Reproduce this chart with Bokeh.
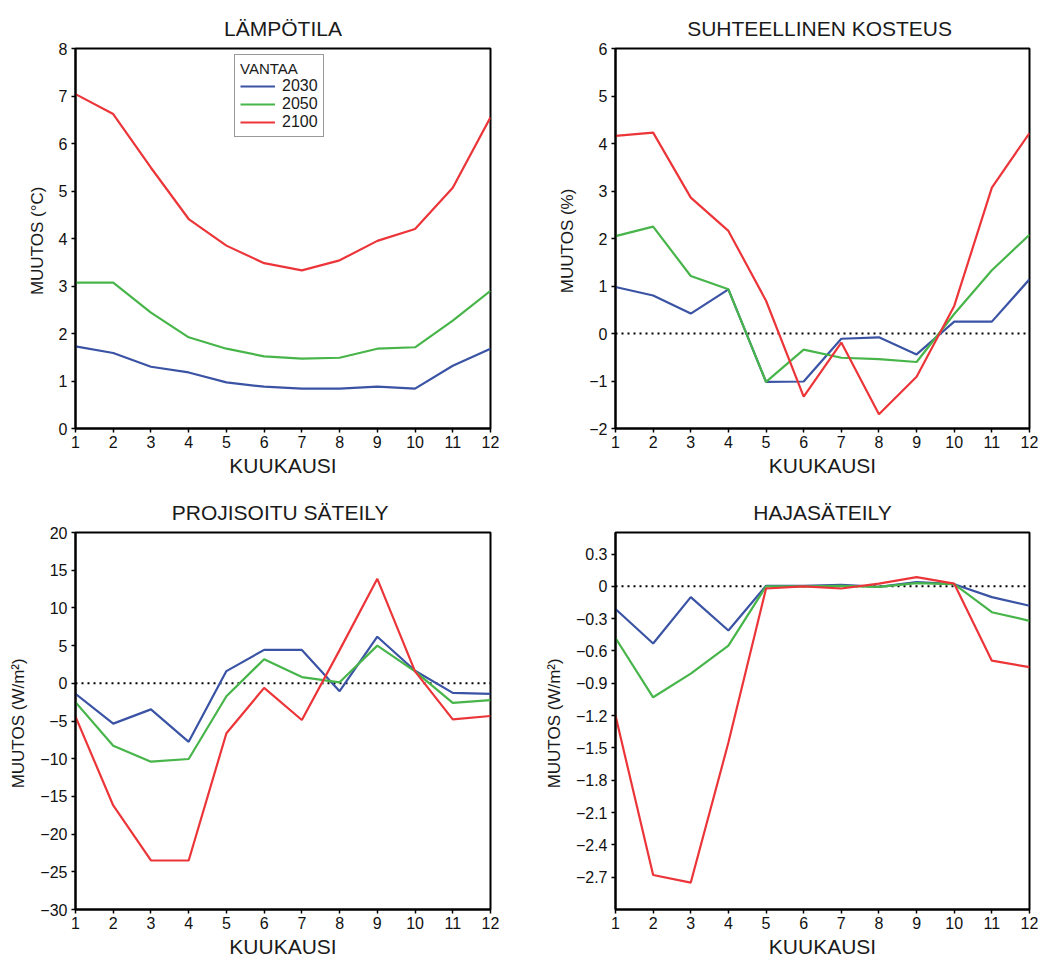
from bokeh.plotting import figure
from bokeh.layouts import gridplot
from bokeh.models import (Range1d, FixedTicker, CustomJSTickFormatter, Legend,
                          LegendItem)
from bokeh.embed import file_html
from bokeh.resources import INLINE

# ---------------- data ----------------
months = [1, 2, 3, 4, 5, 6, 7, 8, 9, 10, 11, 12]
series_names = ["2030", "2050", "2100"]
legend_title = "VANTAA"

temp_2030 = [1.73, 1.59, 1.30, 1.18, 0.97, 0.88, 0.84, 0.84, 0.88, 0.84, 1.32, 1.68]
temp_2050 = [3.07, 3.07, 2.44, 1.92, 1.68, 1.52, 1.47, 1.49, 1.68, 1.71, 2.27, 2.90]
temp_2100 = [7.04, 6.62, 5.49, 4.41, 3.85, 3.48, 3.33, 3.54, 3.95, 4.20, 5.07, 6.55]

rh_2030 = [0.98, 0.80, 0.42, 0.93, -1.02, -1.01, -0.11, -0.08, -0.44, 0.25, 0.25, 1.14]
rh_2050 = [2.05, 2.25, 1.21, 0.93, -1.02, -0.34, -0.51, -0.54, -0.60, 0.41, 1.33, 2.08]
rh_2100 = [4.16, 4.23, 2.86, 2.16, 0.69, -1.33, -0.19, -1.70, -0.91, 0.58, 3.07, 4.22]

proj_2030 = [-1.4, -5.35, -3.46, -7.76, 1.62, 4.43, 4.43, -1.05, 6.18, 1.67, -1.27, -1.4]
proj_2050 = [-2.5, -8.29, -10.4, -10.04, -1.71, 3.2, 0.83, 0.13, 5.0, 1.58, -2.59, -2.24]
proj_2100 = [-4.43, -16.2, -23.5, -23.5, -6.62, -0.61, -4.87, 4.4, 13.86, 1.58, -4.78, -4.34]

diff_2030 = [-0.21, -0.53, -0.10, -0.41, 0.005, 0.005, 0.015, -0.005, 0.04, 0.02, -0.10, -0.18]
diff_2050 = [-0.48, -1.03, -0.81, -0.55, 0.0, 0.0, 0.005, -0.005, 0.03, 0.02, -0.24, -0.32]
diff_2100 = [-1.20, -2.68, -2.75, -1.45, -0.02, 0.0, -0.02, 0.025, 0.086, 0.025, -0.69, -0.75]

titles = ["LÄMPÖTILA", "SUHTEELLINEN  KOSTEUS", "PROJISOITU  SÄTEILY", "HAJASÄTEILY"]
ylabels = ["MUUTOS  (°C)", "MUUTOS  (%)", "MUUTOS  (W/m²)", "MUUTOS  (W/m²)"]
xlabel = "KUUKAUSI"

temp_ticks = [0, 1, 2, 3, 4, 5, 6, 7, 8]
rh_ticks = [-2, -1, 0, 1, 2, 3, 4, 5, 6]
proj_ticks = [-30, -25, -20, -15, -10, -5, 0, 5, 10, 15, 20]
diff_ticks = [-2.7, -2.4, -2.1, -1.8, -1.5, -1.2, -0.9, -0.6, -0.3, 0, 0.3]

# ---------------- styling ----------------
FONT = "Liberation Sans"
COLORS = ["#3a53a4", "#47b549", "#ec3539"]


def make_panel(title, ylabel, ydata, yrange, yticks, decimals, zero_line,
               borders, legend=False):
    left, right, top, bottom = borders
    p = figure(width=519, height=480, output_backend="svg", toolbar_location=None,
               x_range=Range1d(1, 12), y_range=Range1d(*yrange),
               min_border_left=left, min_border_right=right,
               min_border_top=top, min_border_bottom=bottom,
               background_fill_color="white", border_fill_color="white")
    p.title.text = title
    p.title.align = "center"
    p.title.text_font = FONT
    p.title.text_font_size = "21px"
    p.title.text_font_style = "normal"
    p.title.text_color = "#1a1a1a"
    p.title.standoff = 18

    p.grid.visible = False
    p.outline_line_color = "black"
    p.outline_line_width = 2

    for ax in (p.xaxis[0], p.yaxis[0]):
        ax.axis_line_width = 2
        ax.axis_line_color = "black"
        ax.major_tick_in = 0
        ax.major_tick_out = 4
        ax.major_tick_line_width = 1.5
        ax.minor_tick_line_color = None
        ax.major_label_text_font = FONT
        ax.major_label_text_font_size = "16px"
        ax.major_label_text_color = "#111111"
        ax.axis_label_text_font = FONT
        ax.axis_label_text_font_style = "normal"
        ax.axis_label_text_color = "#1a1a1a"

    p.xaxis.ticker = FixedTicker(ticks=months)
    p.xaxis.axis_label = xlabel
    p.xaxis.axis_label_text_font_size = "21px"
    p.xaxis.axis_label_standoff = 3
    p.xaxis.major_label_standoff = 3

    p.yaxis.ticker = FixedTicker(ticks=yticks)
    p.yaxis.axis_label = ylabel
    p.yaxis.axis_label_text_font_size = "17px"
    p.yaxis.axis_label_standoff = 9
    p.yaxis.major_label_standoff = 4
    p.yaxis.formatter = CustomJSTickFormatter(
        args=dict(dec=decimals),
        code="""
        let s = (Math.abs(tick) < 1e-9) ? '0' : tick.toFixed(dec);
        return s.replace('-', '\\u2212');
        """)

    if zero_line:
        p.line(x=[months[0], months[-1]], y=[0, 0], line_color="black",
               line_width=2, line_dash="2 4")

    renderers = []
    for ys, c in zip(ydata, COLORS):
        renderers.append(p.line(x=months, y=ys, line_color=c, line_width=2.2))

    if legend:
        items = [LegendItem(label=name, renderers=[r])
                 for name, r in zip(series_names, renderers)]
        lg = Legend(items=items, location=(159, 291), title=legend_title,
                    title_text_font=FONT, title_text_font_size="15px",
                    title_text_font_style="normal", title_text_color="#1a1a1a",
                    title_standoff=0,
                    label_text_font=FONT, label_text_font_size="16px",
                    label_text_color="#1a1a1a",
                    glyph_width=35, glyph_height=16, label_height=16,
                    label_standoff=7, spacing=0, padding=5, margin=0,
                    border_line_color="#333333", border_line_width=1,
                    background_fill_color="white", background_fill_alpha=1)
        p.add_layout(lg, "center")
    return p


p1 = make_panel(titles[0], ylabels[0], [temp_2030, temp_2050, temp_2100],
                (0, 8), temp_ticks, 0, False, (75, 29, 48, 52), legend=True)
p2 = make_panel(titles[1], ylabels[1], [rh_2030, rh_2050, rh_2100],
                (-2, 6), rh_ticks, 0, True, (96, 9, 48, 52))
p3 = make_panel(titles[2], ylabels[2], [proj_2030, proj_2050, proj_2100],
                (-30, 20), proj_ticks, 0, True, (75, 29, 52, 48))
p4 = make_panel(titles[3], ylabels[3], [diff_2030, diff_2050, diff_2100],
                (-3.0, 0.5), diff_ticks, 1, True, (96, 9, 52, 48))

grid = gridplot([[p1, p2], [p3, p4]], toolbar_location=None)

with open("out.html", "w") as f:
    f.write(file_html(grid, INLINE))
